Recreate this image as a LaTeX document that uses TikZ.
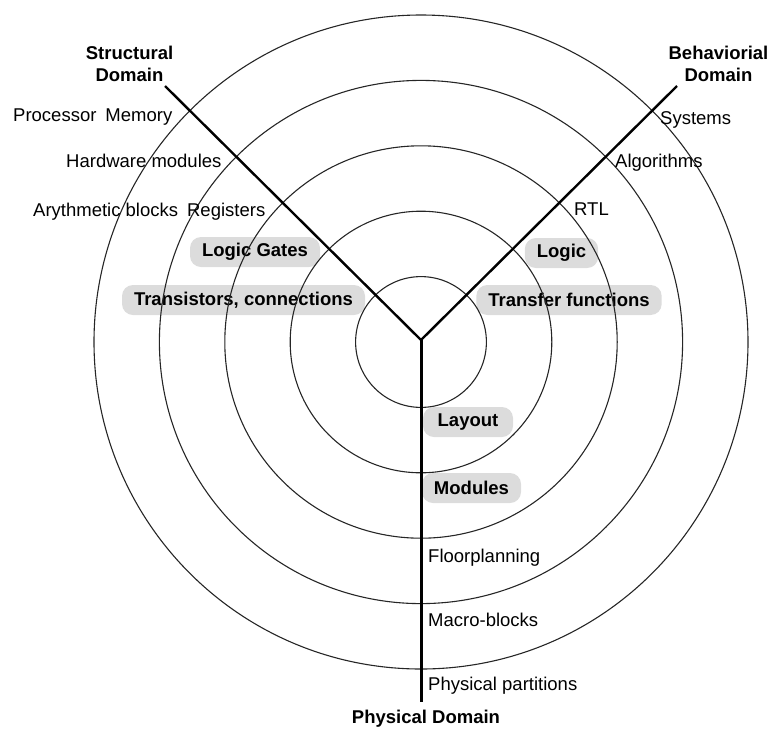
\documentclass[tikz,border=0pt]{standalone}
\usepackage{fontspec}
\setmainfont{Liberation Sans}
\definecolor{pillgray}{RGB}{220,220,220}
\begin{document}
\begin{tikzpicture}[x=1pt,y=-1pt,
  every node/.style={inner sep=0pt, font=\fontsize{18.5}{22}\selectfont},
  ring/.style={draw=black!85, line width=1.1pt},
  axis/.style={draw=black, line width=2.6pt},
  lvl/.style={anchor=base west},
  domtitle/.style={align=center, font=\fontsize{18.5}{22}\selectfont\bfseries},
  pill/.style={fill=pillgray, rounded corners=11pt, minimum height=30pt,
               inner xsep=12pt, font=\fontsize{18.5}{22}\selectfont\bfseries}]
\useasboundingbox (0,0) rectangle (771,729);

% highlighted abstraction levels (under the rings)
\node[pill, minimum width=130pt] (lgates) at (255,252) {Logic Gates};
\node[pill, minimum width=243pt] (trans) at (243.5,300) {Transistors, connections};
\node[pill, minimum width=73pt]  (logic) at (561.5,253) {Logic};
\node[pill, minimum width=184pt] (transf) at (569,300) {Transfer functions};
\node[pill, minimum width=90pt]  (layout) at (468,422) {Layout};
\node[pill, minimum width=97pt]  (modules) at (471.5,488) {Modules};

% concentric abstraction rings
\coordinate (c) at (421,342);
\foreach \r in {65.4,130.8,196.2,261.6,327}
  \draw[ring] (c) circle[radius=\r];

% the three domain axes
\coordinate (o) at (421,340);
\coordinate (sEnd) at (165,86);
\coordinate (bEnd) at (677,86);
\coordinate (pEnd) at (421,702);
\draw[axis, line width=2.4pt] (o) -- (sEnd);
\draw[axis, line width=2.4pt] (o) -- (bEnd);
\draw[axis, line width=3pt] (o) -- (pEnd);

% domain titles
\node[domtitle] (sdom) at (129.5,64) {Structural\\Domain};
\node[domtitle] (bdom) at (718.5,64) {Behaviorial\\Domain};
\node[domtitle, anchor=base] (pdom) at (426,723) {Physical Domain};

% structural levels
\node[lvl] (procmem) at (13,121) {Processor\hspace{9pt}Memory};
\node[lvl] (hwmod) at (66,167) {Hardware modules};
\node[lvl] (arith) at (33,216) {Arythmetic blocks\hspace{9pt}Registers};

% behavioral levels
\node[lvl] (sys) at (660,124) {Systems};
\node[lvl] (algo) at (615,167) {Algorithms};
\node[lvl] (rtl) at (574,215) {RTL};

% physical levels
\node[lvl] (floor) at (428,562) {Floorplanning};
\node[lvl] (macro) at (428,626) {Macro-blocks};
\node[lvl] (ppart) at (428,690) {Physical partitions};
\end{tikzpicture}
\end{document}
